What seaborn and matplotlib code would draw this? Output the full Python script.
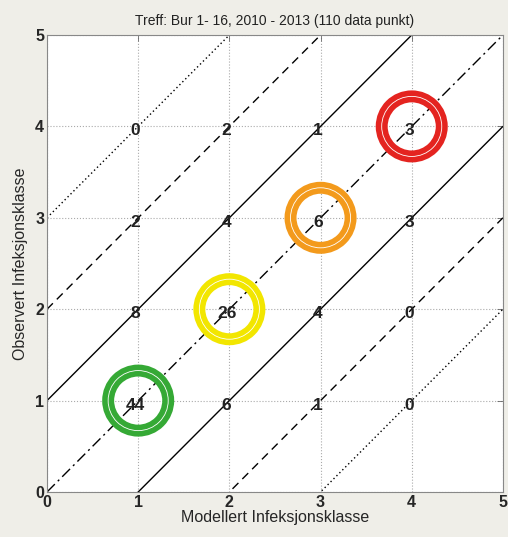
import numpy as np
import pandas as pd
import seaborn as sns
from matplotlib import pyplot as plt

# counts per (modelled, observed) class
model_cls = [1, 2, 3, 4]
obs_cls = [1, 2, 3, 4]
counts = [
    [44, 6, 1, 0],   # observed 1
    [8, 26, 4, 0],   # observed 2
    [2, 4, 6, 3],    # observed 3
    [0, 2, 1, 3],    # observed 4
]
hit_colors = ["#35a935", "#f2e600", "#f39a1c", "#e42420"]

# diagonal reference lines y = x + offset
offsets = [-3, -2, -1, 0, 1, 2, 3]
dotted = (0, (1, 2))
dashed = (0, (6, 4))
dashdot = (0, (8, 3, 1.5, 3))
styles = [dotted, dashed, "-", dashdot, "-", dashed, dotted]

sns.set_style("white")
plt.rcParams["font.family"] = ["Liberation Sans", "DejaVu Sans"]

fig = plt.figure(figsize=(5.08, 5.37), dpi=100, facecolor="#efeee8")
ax = fig.add_axes([0.0925, 0.0838, 0.8975, 0.851])

xs = np.array([0, 5])
for off, ls in zip(offsets, styles):
    df = pd.DataFrame({"x": xs, "y": xs + off})
    sns.lineplot(data=df, x="x", y="y", ax=ax, color="black",
                 linestyle=ls, linewidth=1.0, zorder=2)

ring = pd.DataFrame({"x": model_cls, "y": obs_cls, "c": hit_colors})
ax.scatter(ring["x"], ring["y"], s=1870, facecolors="none",
           edgecolors=ring["c"], linewidths=8.6, zorder=3)
ax.scatter(ring["x"], ring["y"], s=1870, facecolors="none",
           edgecolors="white", linewidths=0.6, zorder=4)

for i, yv in enumerate(obs_cls):
    for j, xv in enumerate(model_cls):
        ax.text(xv - 0.03, yv - 0.05, str(counts[i][j]), ha="center",
                va="center", fontsize=12.5, fontweight="bold",
                color="#222222", zorder=5)

ax.set_xlim(0, 5)
ax.set_ylim(0, 5)
ax.set_xticks(range(6))
ax.set_yticks(range(6))
ax.grid(True, linestyle=":", color="#aaaaaa", linewidth=0.8)
ax.tick_params(direction="in", length=4, width=0.6, top=True, right=True,
               labelsize=11.5, pad=2, color="#666666")
for lab in ax.get_xticklabels() + ax.get_yticklabels():
    lab.set_fontweight("bold")
for s in ax.spines.values():
    s.set_color("#888888")
    s.set_linewidth(0.8)

ax.set_xlabel("Modellert Infeksjonsklasse", fontsize=11.5, labelpad=0)
ax.set_ylabel("Observert Infeksjonsklasse", fontsize=11.5, labelpad=5)
ax.set_title("Treff: Bur 1- 16, 2010 - 2013 (110 data punkt)", fontsize=10,
             pad=7, color="#222222")

plt.savefig("out.png", dpi=100, facecolor=fig.get_facecolor())
